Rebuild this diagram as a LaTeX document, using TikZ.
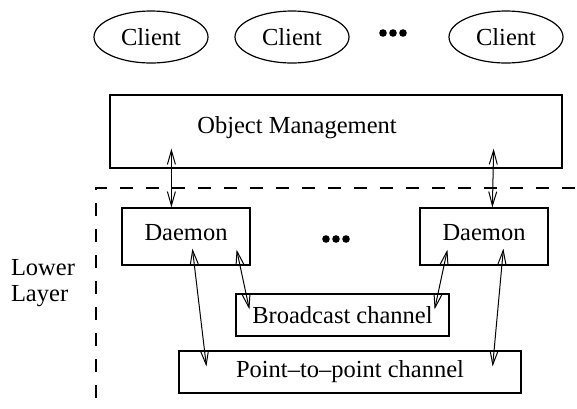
\documentclass[tikz,border=0pt]{standalone}
\usepackage{fontspec}
\setmainfont{Liberation Serif}
\usetikzlibrary{arrows.meta,calc,shapes.geometric}
\begin{document}
\begin{tikzpicture}[x=1pt,y=-1pt,
  every node/.style={font=\fontsize{24.5}{25.5}\selectfont},
  client/.style={ellipse,draw,line width=1.2pt,minimum width=114pt,minimum height=52pt,inner sep=0pt},
  box/.style={rectangle,draw,line width=1.2pt,inner sep=0pt},
  link/.style={line width=1pt,{Straight Barb[length=14pt,width=8pt]}-{Straight Barb[length=14pt,width=8pt]}},
  layerline/.style={line width=1.2pt,dash pattern=on 13pt off 13pt},
  dot/.style={circle,fill,inner sep=0pt,minimum size=7.6pt}]
\useasboundingbox (0,0) rectangle (577,408);

% clients
\node[client] (c1) at (151,37) {Client};
\node[client] (c2) at (292,37) {Client};
\node[client] (c3) at (506,37) {Client};
\node[dot] (d1) at (383,33) {};
\node[dot] (d2) at (393,33) {};
\node[dot] (d3) at (403,33) {};

% object management layer
\node[box,minimum width=452pt,minimum height=73pt] (om) at (336,131.5) {};
\node (omtext) at (297,128) {Object Management};

% lower layer frame
\coordinate (fb) at (96,398);
\coordinate (fc) at (96,188);
\coordinate (fr) at (577,188);
\draw[layerline] (fb) -- (fc) -- (fr);
\node[align=left,inner sep=0pt] (lower) at (43,283) {Lower\\Layer};

% daemons
\node[box,minimum width=128pt,minimum height=57pt,text depth=8pt] (dl) at (186,236.5) {Daemon};
\node[box,minimum width=128pt,minimum height=57pt,text depth=8pt] (dr) at (484,236.5) {Daemon};
\node[dot] (e1) at (326,239) {};
\node[dot] (e2) at (336,239) {};
\node[dot] (e3) at (346,239) {};

% channels
\node[box,minimum width=213pt,minimum height=42pt] (bc) at (342.5,315) {Broadcast channel};
\node[box,minimum width=342pt,minimum height=42pt] (pp) at (350,372) {Point{\textendash}to{\textendash}point channel};

% links between layers
\draw[link] ([xshift=62pt,yshift=20pt]om.south west) -- ([xshift=50pt]dl.north west);
\draw[link] ([xshift=-69pt,yshift=20pt]om.south east) -- ([xshift=73pt]dr.north west);
\draw[link] ([xshift=71pt,yshift=17pt]dl.south west) -- ([xshift=28pt,yshift=-16pt]pp.north west);
\draw[link] ([xshift=-14pt,yshift=16pt]dl.south east) -- ([xshift=14pt,yshift=-16pt]bc.north west);
\draw[link] ([xshift=28pt,yshift=16pt]dr.south west) -- ([xshift=-15pt,yshift=-16pt]bc.north east);
\draw[link] ([xshift=84pt,yshift=17pt]dr.south west) -- ([xshift=-29pt,yshift=-16pt]pp.north east);
\end{tikzpicture}
\end{document}
